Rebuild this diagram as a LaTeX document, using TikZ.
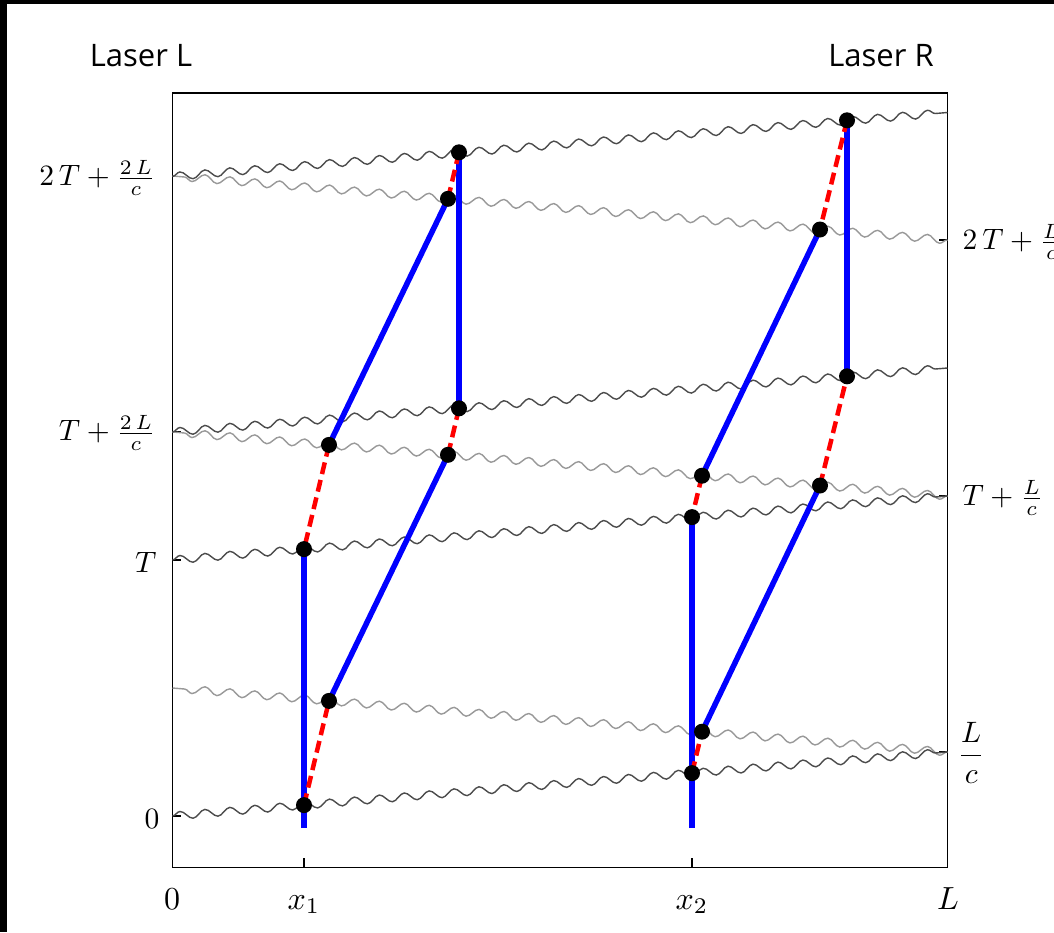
\documentclass[tikz,border=0pt]{standalone}
\usepackage{fontspec}
\newfontfamily\laserfont{Open Sans}
\usetikzlibrary{decorations.pathmorphing}
\pgfdeclarelayer{bg}
\pgfsetlayers{bg,main}
\tikzset{
  dot/.style={circle, fill=black, inner sep=0pt, minimum size=16pt},
  bluel/.style={draw={rgb,255:red,0;green,0;blue,255}, line width=5.5pt},
  redl/.style={draw={rgb,255:red,255;green,0;blue,0}, line width=4.5pt, dash pattern=on 12pt off 6pt},
  wavy/.style={decorate, decoration={snake, segment length=25pt, amplitude=3.9pt}},
  darkw/.style={wavy, draw=black!70, line width=1.4pt},
  lightw/.style={wavy, draw=black!40, line width=1.4pt},
  frame/.style={draw=black, line width=1.7pt},
  lab/.style={inner sep=0pt, scale=2.95},
  botlab/.style={inner sep=0pt, scale=3.2, anchor=base},
  laser/.style={inner sep=0pt, font=\laserfont\fontsize{31}{36}\selectfont, anchor=base}
}
\begin{document}
\begin{tikzpicture}[x=1pt,y=-1pt]
\useasboundingbox (0,0) rectangle (1054,932);

% dots (left clock)
\node[dot] (A1) at (304,805.1) {};
\node[dot] (A2) at (329,700.9) {};
\node[dot] (A3) at (448,454.8) {};
\node[dot] (A4) at (459,408.3) {};
\node[dot] (A5) at (459,152.3) {};
\node[dot] (A6) at (448,198.8) {};
\node[dot] (A7) at (329,444.9) {};
\node[dot] (A8) at (304,549.1) {};
% dots (right clock)
\node[dot] (B1) at (692,773.1) {};
\node[dot] (B2) at (702,731.7) {};
\node[dot] (B3) at (820,485.5) {};
\node[dot] (B4) at (847,376.3) {};
\node[dot] (B5) at (847,120.3) {};
\node[dot] (B6) at (820,229.5) {};
\node[dot] (B7) at (702,475.7) {};
\node[dot] (B8) at (692,517.1) {};
\coordinate (A0) at (304,828);
\coordinate (B0) at (692,828);

% light pulse end points
\coordinate (dl0) at (172.5,816);   \coordinate (dr0) at (947.5,752);
\coordinate (dl1) at (172.5,560);   \coordinate (dr1) at (947.5,496);
\coordinate (dl2) at (172.5,432);   \coordinate (dr2) at (947.5,368);
\coordinate (dl3) at (172.5,176.5); \coordinate (dr3) at (947.5,112.5);
\coordinate (gr0) at (947.5,752);   \coordinate (gl0) at (172.5,688);
\coordinate (gr1) at (947.5,496);   \coordinate (gl1) at (172.5,432);
\coordinate (gr2) at (947.5,240);   \coordinate (gl2) at (172.5,176);

\begin{pgfonlayer}{bg}
\fill[white] (0,0) rectangle (1054,932);
\fill[black] (0,0) rectangle (1054,4);
\fill[black] (0,0) rectangle (7,932);
% frame
\draw[frame] (172.5,93) rectangle (947.5,867.5);
% ticks
\foreach \yy in {816,560,432,176.5} \draw[frame] (172.5,\yy) -- (181,\yy);
\foreach \yy in {752,496,240} \draw[frame] (939,\yy) -- (947.5,\yy);
\foreach \xx in {304,692} \draw[frame] (\xx,867.5) -- (\xx,858);
% light pulses
\draw[lightw] (gr0) -- (gl0);
\draw[lightw] (gr1) -- (gl1);
\draw[lightw] (gr2) -- (gl2);
\draw[darkw] (dl0) -- (dr0);
\draw[darkw] (dl1) -- (dr1);
\draw[darkw] (dl2) -- (dr2);
\draw[darkw] (dl3) -- (dr3);
% world lines
\draw[bluel] (A0.center) -- (A8.center);
\draw[bluel] (A2.center) -- (A3.center);
\draw[bluel] (A7.center) -- (A6.center);
\draw[bluel] (A4.center) -- (A5.center);
\draw[bluel] (B0.center) -- (B8.center);
\draw[bluel] (B2.center) -- (B3.center);
\draw[bluel] (B7.center) -- (B6.center);
\draw[bluel] (B4.center) -- (B5.center);
\draw[redl] (A1.center) -- (A2.center);
\draw[redl] (A3.center) -- (A4.center);
\draw[redl] (A5.center) -- (A6.center);
\draw[redl] (A7.center) -- (A8.center);
\draw[redl] (B1.center) -- (B2.center);
\draw[redl] (B3.center) -- (B4.center);
\draw[redl] (B5.center) -- (B6.center);
\draw[redl] (B7.center) -- (B8.center);
\end{pgfonlayer}

% labels
\node[laser] (lasL) at (141,66) {Laser L};
\node[laser] (lasR) at (881,66) {Laser R};
\node[lab, anchor=east] (t4) at (156,178) {$2\,T+\frac{2\,L}{c}$};
\node[lab, anchor=east] (t3) at (156,433) {$T+\frac{2\,L}{c}$};
\node[lab, anchor=east] (t2) at (157,562) {$T$};
\node[lab, anchor=east] (t1) at (160,819) {$0$};
\node[lab, anchor=west] (r3) at (962,242) {$2\,T+\frac{L}{c}$};
\node[lab, anchor=west] (r2) at (962,498) {$T+\frac{L}{c}$};
\node[lab, anchor=west] (r1) at (957,753) {$\displaystyle\frac{L}{c}$};
\node[botlab] (b0) at (172,909) {$0$};
\node[botlab] (b1) at (304,909) {$x_1$};
\node[botlab] (b2) at (692,909) {$x_2$};
\node[botlab] (b3) at (948,909) {$L$};
\end{tikzpicture}
\end{document}
